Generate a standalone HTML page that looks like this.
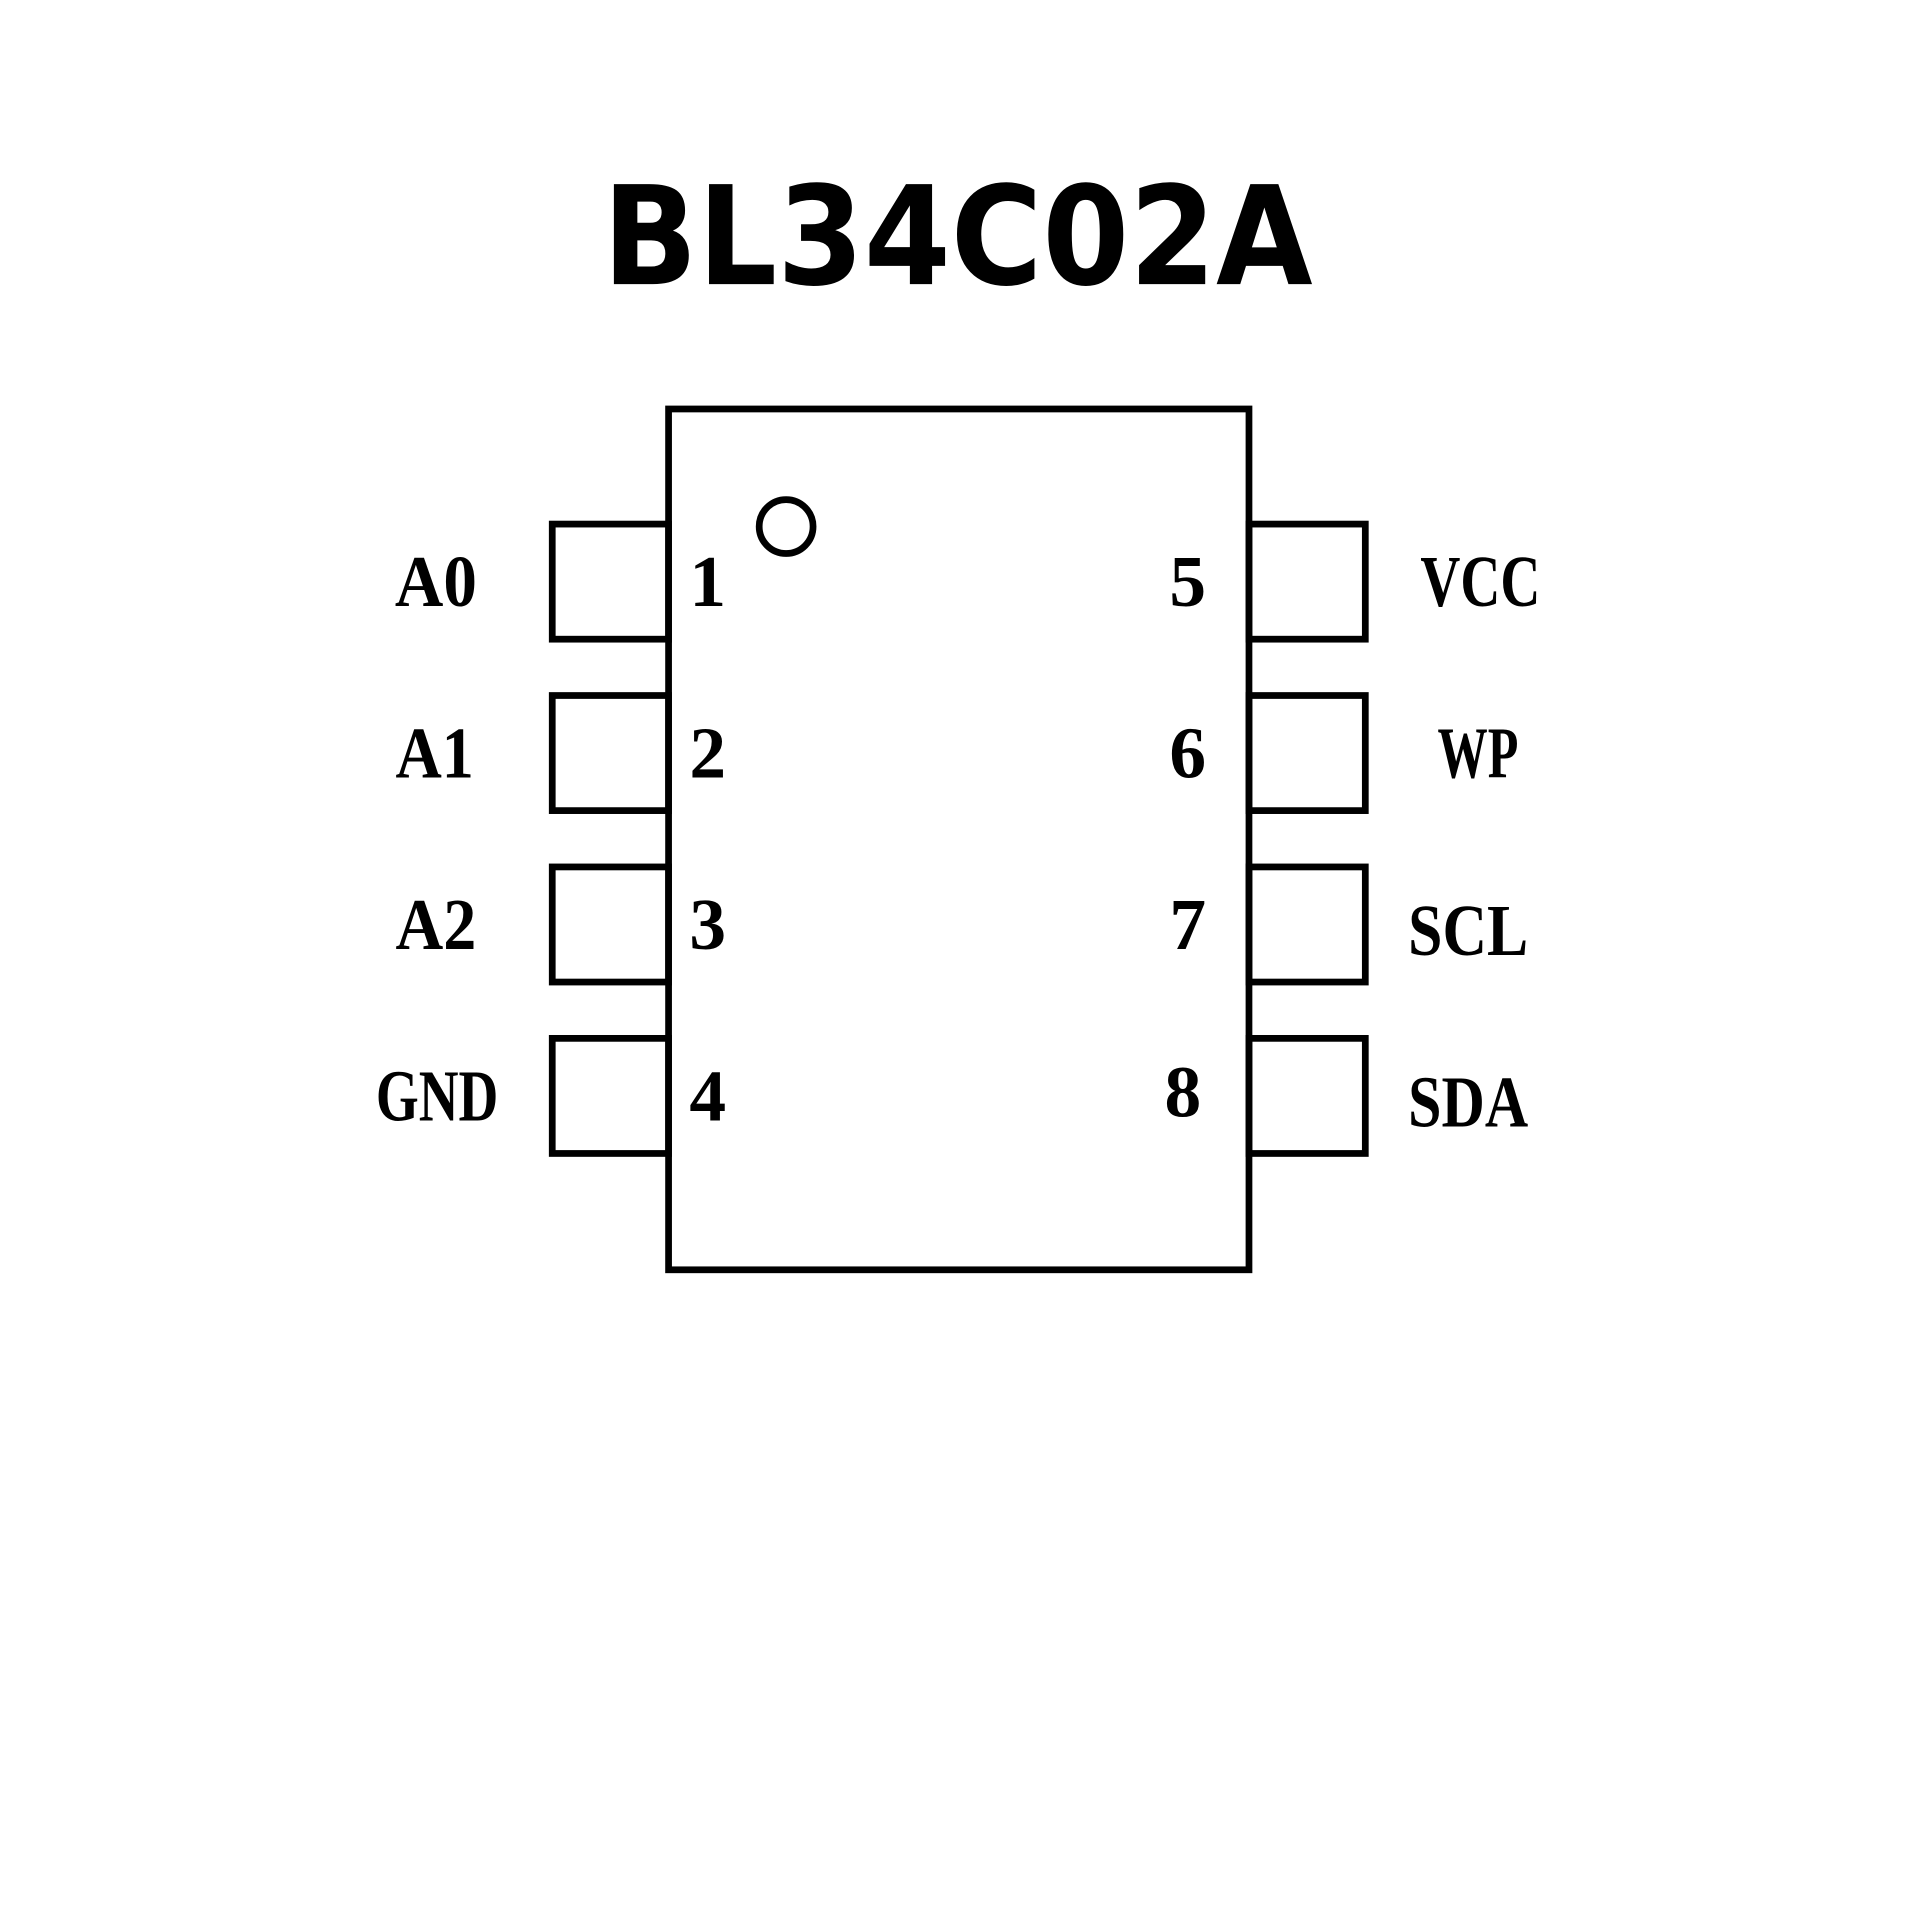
<!DOCTYPE html>
<html><head><meta charset="utf-8"><style>html,body{margin:0;padding:0;background:#fff}svg{display:block}</style></head>
<body>
<svg width="1920" height="1920" viewBox="0 0 1568 1568" xmlns="http://www.w3.org/2000/svg">
<rect width="1568" height="1568" fill="#fff"/>
<text x="782" y="232" text-anchor="middle" font-family="'DejaVu Sans','Liberation Sans',sans-serif" font-weight="bold" font-size="112" textLength="580" lengthAdjust="spacingAndGlyphs">BL34C02A</text>
<g fill="none" stroke="#000" stroke-width="5.5" stroke-linejoin="miter">
<rect x="546" y="334" width="474" height="703"/>
<circle cx="642" cy="430" r="22"/>
<rect x="451" y="428" width="95" height="94"/>
<rect x="451" y="568" width="95" height="94"/>
<rect x="451" y="708" width="95" height="94"/>
<rect x="451" y="848" width="95" height="94"/>
<rect x="1020" y="428" width="95" height="94"/>
<rect x="1020" y="568" width="95" height="94"/>
<rect x="1020" y="708" width="95" height="94"/>
<rect x="1020" y="848" width="95" height="94"/>
</g>
<g font-family="'Liberation Serif',serif" font-size="60" font-weight="bold" text-anchor="middle" fill="#000">
<text x="356" y="495" textLength="67" lengthAdjust="spacingAndGlyphs">A0</text>
<text x="355" y="635" textLength="64" lengthAdjust="spacingAndGlyphs">A1</text>
<text x="356" y="775" textLength="66" lengthAdjust="spacingAndGlyphs">A2</text>
<text x="357" y="915" textLength="100" lengthAdjust="spacingAndGlyphs">GND</text>
<text x="578" y="495">1</text>
<text x="578" y="635">2</text>
<text x="578" y="775">3</text>
<text x="578" y="915">4</text>
<text x="970" y="495">5</text>
<text x="970" y="635">6</text>
<text x="970" y="775">7</text>
<text x="966" y="912">8</text>
<text x="1209" y="495" textLength="98" lengthAdjust="spacingAndGlyphs">VCC</text>
<text x="1207" y="635" textLength="66" lengthAdjust="spacingAndGlyphs">WP</text>
<text x="1199" y="780" textLength="98" lengthAdjust="spacingAndGlyphs">SCL</text>
<text x="1199" y="920" textLength="98" lengthAdjust="spacingAndGlyphs">SDA</text>
</g>
</svg>
</body></html>
